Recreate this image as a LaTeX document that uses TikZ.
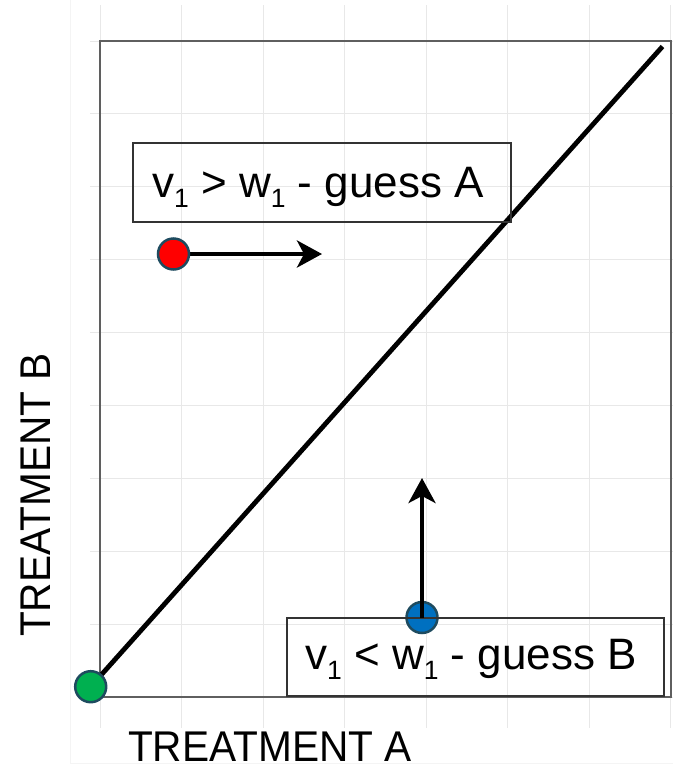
\documentclass[tikz,border=0pt]{standalone}
\usepackage{fontspec}
\setmainfont{Liberation Sans}
\newfontfamily\axisfont[FakeStretch=0.945]{Liberation Sans}
\usetikzlibrary{arrows.meta}
\definecolor{gridc}{RGB}{232,232,232}
\definecolor{outerc}{RGB}{244,244,244}
\definecolor{framec}{RGB}{95,95,95}
\definecolor{dotborder}{RGB}{30,75,95}
\definecolor{redc}{RGB}{255,0,0}
\definecolor{greenc}{RGB}{0,176,80}
\definecolor{bluec}{RGB}{0,112,192}
\newcommand\mysub[1]{\raisebox{-10pt}{\fontsize{26.5}{27}\selectfont #1}}
\begin{document}
\begin{tikzpicture}[x=1pt,y=-1pt,
  gridline/.style={draw=gridc,line width=1pt},
  outerline/.style={draw=outerc,line width=1pt},
  frameline/.style={draw=framec,line width=1.6pt},
  diag/.style={draw=black,line width=4.8pt},
  arr/.style={draw=black,line width=4.2pt,-{Stealth[length=25pt,width=27pt,inset=7pt]}},
  dot/.style={circle,minimum size=31pt,inner sep=0pt,draw=dotborder,line width=2.5pt},
  box/.style={draw=black!80,line width=1.4pt,rectangle,inner sep=0pt},
  boxtext/.style={font=\fontsize{44}{50}\selectfont,inner sep=0pt},
  axistext/.style={font=\axisfont\fontsize{43}{50}\selectfont,inner sep=0pt,text depth=0pt}]
\useasboundingbox (0,0) rectangle (673,769);
% faint outer lines
\draw[outerline] (70,0) -- (70,763) -- (673,763);
% grid
\foreach \i in {0,...,7} \draw[gridline] ({100+\i*81.57},5) -- ({100+\i*81.57},728);
\foreach \j in {0,...,9} \draw[gridline] (90,{41+\j*72.89}) -- (673,{41+\j*72.89});
% frame
\draw[frameline] (100,41) rectangle (671,697);
% key points
\coordinate (g) at (90.7,686.7);
\coordinate (top) at (662.5,46.5);
\coordinate (r) at (173.5,254);
\coordinate (rtip) at (322,254);
\coordinate (b) at (422,617.5);
\coordinate (btip) at (422,478);
% diagonal and red arrow
\draw[diag] (g) -- (top);
\draw[arr] (r) -- (rtip);
% dots
\node[dot,fill=redc] (rdot) at (r) {};
\node[dot,fill=greenc] (gdot) at (g) {};
\node[dot,fill=bluec] (bdot) at (b) {};
% boxes
\node[box,minimum width=378pt,minimum height=79pt] (boxA) at (322,182.5) {};
\node[box,minimum width=377pt,minimum height=78pt] (boxB) at (475.5,657) {};
\draw[arr] (b) -- (btip);
% box texts
\node[boxtext,anchor=base west] (textA) at (152,197) {v\mysub{1} > w\mysub{1} - guess A};
\node[boxtext,anchor=base west] (textB) at (305,669) {v\mysub{1} < w\mysub{1} - guess B};
% axis labels
\node[axistext,anchor=base] (xlab) at (270,761) {TREATMENT A};
\node[axistext,anchor=base,rotate=90] (ylab) at (50,495) {TREATMENT B};
\end{tikzpicture}
\end{document}
